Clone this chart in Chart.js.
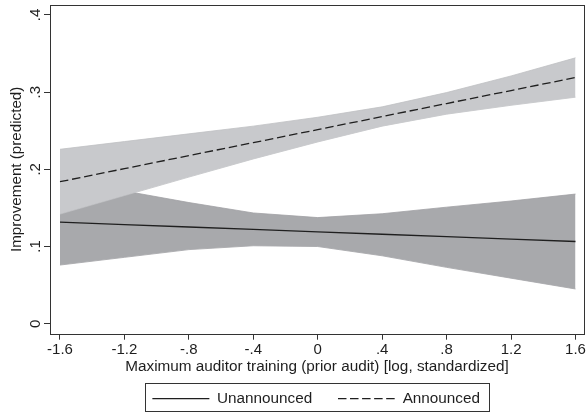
<!DOCTYPE html>
<html><head><meta charset="utf-8">
<script src="https://cdn.jsdelivr.net/npm/chart.js@4/dist/chart.umd.min.js"></script>
<style>html,body{margin:0;padding:0;background:#fff}canvas{display:block}</style>
</head><body>
<canvas id="c" width="586" height="413"></canvas>
<script>
// ---- data ----
const xValues = [-1.6, -1.2, -0.8, -0.4, 0, 0.4, 0.8, 1.2, 1.6];
const unannouncedFit   = [0.1315, 0.1284, 0.1253, 0.1221, 0.1190, 0.1159, 0.1128, 0.1096, 0.1065];
const unannouncedUpper = [0.187, 0.172, 0.157, 0.1435, 0.1375, 0.1425, 0.151, 0.159, 0.168];
const unannouncedLower = [0.076, 0.086, 0.096, 0.101, 0.100, 0.088, 0.073, 0.059, 0.045];
const announcedFit     = [0.184, 0.2009, 0.2178, 0.2346, 0.2515, 0.2684, 0.2853, 0.3021, 0.319];
const announcedUpper   = [0.226, 0.236, 0.246, 0.256, 0.2675, 0.281, 0.2995, 0.321, 0.3445];
const announcedLower   = [0.142, 0.166, 0.190, 0.2135, 0.2355, 0.256, 0.2715, 0.283, 0.2935];
const seriesNames = ['Unannounced', 'Announced'];
const xTickValues = [-1.6, -1.2, -0.8, -0.4, 0, 0.4, 0.8, 1.2, 1.6];
const xTickLabels = ['-1.6', '-1.2', '-.8', '-.4', '0', '.4', '.8', '1.2', '1.6'];
const yTickValues = [0, 0.1, 0.2, 0.3, 0.4];
const yTickLabels = ['0', '.1', '.2', '.3', '.4'];
const xTitle = 'Maximum auditor training (prior audit) [log, standardized]';
const yTitle = 'Improvement (predicted)';

// ---- styling ----
const FONT = "'Liberation Sans', Arial, Helvetica, sans-serif";
const TXT = '#1e1e1e';
const AXC = '#333333';
const KEY_LEAD = 15.7, KEY_LEN = 57;
const legendDashes = [
  [0, KEY_LEAD, KEY_LEN, 500],
  [0, KEY_LEAD, 8.5, 3.55, 8.5, 3.55, 8.5, 3.55, 8.5, 3.55, 8.5, 500]
];

Chart.defaults.font.family = FONT;
Chart.defaults.color = TXT;

function pts(ys) { return xValues.map((x, i) => ({x: x, y: ys[i]})); }

const framePlugin = {
  id: 'frame',
  afterLayout(chart) {
    const lg = chart.legend;
    if (!lg) return;
    const dx = -0.8 - KEY_LEAD / 2, dy = 3.2;
    lg.left += dx; lg.right += dx; lg.top += dy; lg.bottom += dy;
  },
  afterDraw(chart) {
    const {ctx, chartArea: a} = chart;
    ctx.save();
    ctx.strokeStyle = AXC;
    ctx.lineWidth = 1;
    ctx.strokeRect(Math.round(a.left) + 0.5, Math.round(a.top) + 0.5,
                   Math.round(a.right) - Math.round(a.left), Math.round(a.bottom) - Math.round(a.top));
    const hb = chart.legend && chart.legend.legendHitBoxes;
    if (hb && hb.length) {
      const first = hb[0], last = hb[hb.length - 1];
      const l = first.left + KEY_LEAD - 7.7;
      const r = last.left + last.width + 8.6;
      const t = first.top + 7.5 - 15.4;
      const b = first.top + 7.5 + 13;
      ctx.strokeRect(Math.round(l) + 0.5, Math.round(t) + 0.5, Math.round(r - l), Math.round(b - t));
    }
    ctx.restore();
  }
};

new Chart(document.getElementById('c'), {
  type: 'line',
  data: {
    datasets: [
      { label: seriesNames[0], data: pts(unannouncedFit), borderColor: '#1f1f1f', backgroundColor: '#1f1f1f',
        borderWidth: 1.3, pointRadius: 0, fill: false, tension: 0 },
      { label: seriesNames[1], data: pts(announcedFit), borderColor: '#1f1f1f', backgroundColor: '#1f1f1f',
        borderWidth: 1.3, borderDash: [8.5, 3.8], pointRadius: 0, fill: false, tension: 0 },
      { label: 'Announced upper', data: pts(announcedUpper), borderColor: '#bfc0c3', backgroundColor: '#c8c9cc',
        borderWidth: 0.8, pointRadius: 0, fill: '+1', tension: 0 },
      { label: 'Announced lower', data: pts(announcedLower), borderColor: '#bfc0c3', backgroundColor: '#c8c9cc',
        borderWidth: 0.8, pointRadius: 0, fill: false, tension: 0 },
      { label: 'Unannounced upper', data: pts(unannouncedUpper), borderColor: '#9fa0a3', backgroundColor: '#a8a9ac',
        borderWidth: 0.8, pointRadius: 0, fill: '+1', tension: 0 },
      { label: 'Unannounced lower', data: pts(unannouncedLower), borderColor: '#9fa0a3', backgroundColor: '#a8a9ac',
        borderWidth: 0.8, pointRadius: 0, fill: false, tension: 0 }
    ]
  },
  options: {
    responsive: false,
    animation: false,
    devicePixelRatio: 1,
    events: [],
    layout: { padding: { top: 5, right: 2, bottom: 0, left: 0 } },
    scales: {
      x: {
        type: 'linear', min: -1.662, max: 1.6528,
        afterBuildTicks(s) { s.ticks = xTickValues.map(v => ({value: v})); },
        afterFit(s) { s.height = 44; s.paddingLeft = 0; s.paddingRight = 0; },
        ticks: { autoSkip: false, maxRotation: 0, minRotation: 0, padding: 1.5, color: TXT,
                 font: { size: 15 }, callback: (v, i) => xTickLabels[i] },
        grid: { drawOnChartArea: false, drawTicks: true, tickLength: 6, color: AXC, lineWidth: 1 },
        border: { display: false },
        title: { display: true, text: xTitle, color: TXT, font: { size: 15.3 }, padding: { top: 0, bottom: 1.5 } }
      },
      y: {
        type: 'linear', min: -0.012945, max: 0.412945,
        afterBuildTicks(s) { s.ticks = yTickValues.map(v => ({value: v})); },
        afterFit(s) { s.width = 50; s.paddingTop = 0; s.paddingBottom = 0; },
        ticks: { autoSkip: false, minRotation: 90, maxRotation: 90, crossAlign: 'center', padding: 2.25,
                 color: TXT, font: { size: 15 }, callback: (v, i) => yTickLabels[i] },
        grid: { drawOnChartArea: false, drawTicks: true, tickLength: 6, color: AXC, lineWidth: 1 },
        border: { display: false },
        title: { display: true, text: yTitle, color: TXT, font: { size: 15.2 }, padding: { top: 8, bottom: 0 } }
      }
    },
    plugins: {
      tooltip: { enabled: false },
      legend: {
        display: true, position: 'bottom', fullSize: false,
        labels: {
          boxWidth: KEY_LEAD + KEY_LEN, boxHeight: 0, padding: 10, color: TXT, font: { size: 15.3 },
          generateLabels(chart) {
            const items = Chart.defaults.plugins.legend.labels.generateLabels(chart)
              .filter(it => it.datasetIndex < 2);
            items.forEach(it => { it.lineDash = legendDashes[it.datasetIndex]; it.lineWidth = 1.3; it.lineCap = 'butt'; it.strokeStyle = '#1f1f1f'; });
            return items;
          }
        }
      }
    }
  },
  plugins: [framePlugin]
});
</script>
</body></html>
